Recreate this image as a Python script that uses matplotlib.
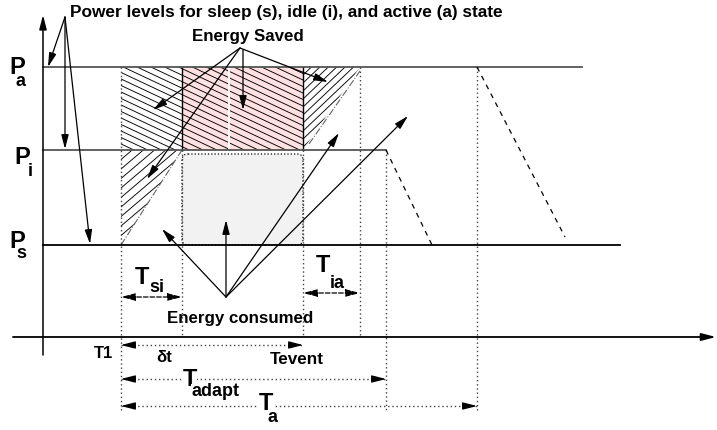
import numpy as np
import matplotlib.pyplot as plt
from matplotlib.patches import Rectangle, Polygon, FancyBboxPatch

plt.rcParams['font.family'] = ['Liberation Sans', 'DejaVu Sans']
plt.rcParams['font.weight'] = 'bold'

# power levels (drawing units, y grows downwards) and where each level line ends
level_names = ['a', 'i', 's']
level_y = [67, 150, 245]
level_end = [582, 386, 620]

# time instants on the x axis
t1, t_si, t_event, t_ia, t_adapt, t_a = 121, 182, 303, 360, 386, 477
x_axis_y = 337
y_axis_x = 43

W, H = 717, 430
fig = plt.figure(figsize=(W / 100, H / 100), dpi=100)
ax = fig.add_axes([0, 0, 1, 1])
ax.set_xlim(0, W)
ax.set_ylim(H, 0)
ax.axis('off')

Pa, Pi, Ps = level_y


def arrow(x0, y0, x1, y1, lw=0.9, ls='-', style='-|>'):
    ax.annotate('', xy=(x1, y1), xytext=(x0, y0),
                arrowprops=dict(arrowstyle=style + ',head_length=0.85,head_width=0.22',
                                lw=lw, ls=ls, color='k', shrinkA=0, shrinkB=0))


def hatch(poly, slope, gap, lw=0.65):
    patch = Polygon(poly, closed=True, fc='none', ec='none')
    ax.add_patch(patch)
    xs = [p[0] for p in poly]
    cs = [y - slope * x for x, y in poly]
    for c in np.arange(min(cs), max(cs) + gap, gap):
        ln, = ax.plot([min(xs), max(xs)], [c + slope * min(xs), c + slope * max(xs)],
                      color='k', lw=lw)
        ln.set_clip_path(patch)


# shaded regions
ax.add_patch(Rectangle((t_si, Pa), t_event - t_si, Pi - Pa, fc='#ffe1e1', ec='none'))
hatch([(t1, Pa), (t_event, Pa), (t_event, Pi), (t1, Pi)], 0.47, 6.5)
ax.plot([229, 229], [Pa + 1, Pi - 1], color='white', lw=1.3)
ax.plot([t_si, t_si], [Pa, Pi], color='k', lw=1)
ax.plot([t_event, t_event], [Pa, Pi], color='k', lw=1)

hatch([(t1, Pi), (t_si, Pi), (t1, Ps)], -0.85, 9.5)
ax.plot([t1, t_si], [Ps, Pi], color='#666666', lw=0.8, ls='-.')
hatch([(t_event, Pa), (t_ia, Pa), (t_event, Pi)], -0.95, 8)
ax.plot([t_event + 6, t_ia], [Pi - 6, Pa + 4], color='#666666', lw=0.8, ls='-.')

ax.add_patch(FancyBboxPatch((t_si, Pi + 4), t_event - t_si, Ps - Pi - 4,
                            boxstyle='round,pad=0,rounding_size=6',
                            fc='#f2f2f2', ec='k', ls=':', lw=0.9))

# level lines
for y, xe, c in zip(level_y, level_end, ['#555555', '#555555', 'k']):
    ax.plot([y_axis_x, xe], [y, y], color=c, lw=1.3)

# vertical guides
guides = [(t1, Pa, 410), (t_si, Pi, x_axis_y), (t_event, Pi, x_axis_y),
          (t_ia, Pa, x_axis_y), (t_adapt, Pi, 410), (t_a, Pa, 410)]
for x, ya, yb in guides:
    ax.plot([x, x], [ya, yb], color='#444444', lw=1, ls=(0, (1, 2)))

# dashed ramps down
ax.plot([t_adapt, 432], [Pi, Ps], color='k', lw=0.9, ls=(0, (4, 4)))
ax.plot([t_a, 565], [Pa, 237], color='k', lw=0.9, ls=(0, (4, 4)))

# axes
arrow(y_axis_x, 355, y_axis_x, 15, lw=1.1)
arrow(13, x_axis_y, 716, x_axis_y, lw=1.3)

# annotation arrows
for xe, ye in [(48, 67), (65, 149), (90, 244)]:
    arrow(65, 17, xe, ye)
for xe, ye in [(153, 110), (328, 82), (147, 179)]:
    arrow(240, 48, xe, ye)
arrow(243, 50, 243, 110)
for xe, ye in [(162, 229), (226, 220), (339, 133), (408, 116)]:
    arrow(226, 297, xe, ye)

# duration arrows
arrow(t1, 297, t_si, 297, ls='--', style='<|-|>')
arrow(t_event, 293, t_ia, 293, ls='--', style='<|-|>')
for xe, y in [(t_event, 345), (t_adapt, 379), (t_a, 406)]:
    ax.plot([t1, xe], [y, y], color='#444444', lw=1, ls=(0, (1, 2)))
    arrow(t1 + 14, y, t1, y)
    arrow(xe - 14, y, xe, y)

# text
ax.text(70, 12, 'Power levels for sleep (s), idle (i), and active (a) state',
        fontsize=12.4, ha='left', va='center')
ax.text(248, 36, 'Energy Saved', fontsize=12.2, ha='center', va='center')
ax.text(240, 319, 'Energy consumed', fontsize=12.2, ha='center', va='center')
ax.text(104, 353, 'T1', fontsize=12, ha='center', va='center')
ax.text(297, 360, 'Tevent', fontsize=12.3, ha='center', va='center')
ax.text(164, 358, 'δt', fontsize=12, ha='center', va='center')

for name, px, py, sx, sy in zip(level_names, [17, 22, 17], [68, 157, 241],
                                [21, 30, 21], [81, 171, 254]):
    ax.text(px, py, 'P', fontsize=17, ha='center', va='center')
    ax.text(sx, sy, name, fontsize=13, ha='center', va='center')

ax.text(142, 277, 'T', fontsize=17, ha='center', va='center')
ax.text(157, 287, 'si', fontsize=13, ha='center', va='center')
ax.text(323, 266, 'T', fontsize=17, ha='center', va='center')
ax.text(337, 283, 'ia', fontsize=13, ha='center', va='center')
ax.text(190, 379, 'T', fontsize=17, ha='center', va='center',
        bbox=dict(fc='white', ec='none', pad=0))
ax.text(215, 392, 'adapt', fontsize=13, ha='center', va='center',
        bbox=dict(fc='white', ec='none', pad=0))
ax.text(266, 404, 'T', fontsize=17, ha='center', va='center',
        bbox=dict(fc='white', ec='none', pad=0))
ax.text(272, 418, 'a', fontsize=13, ha='center', va='center')

fig.savefig('out.png', dpi=100)
